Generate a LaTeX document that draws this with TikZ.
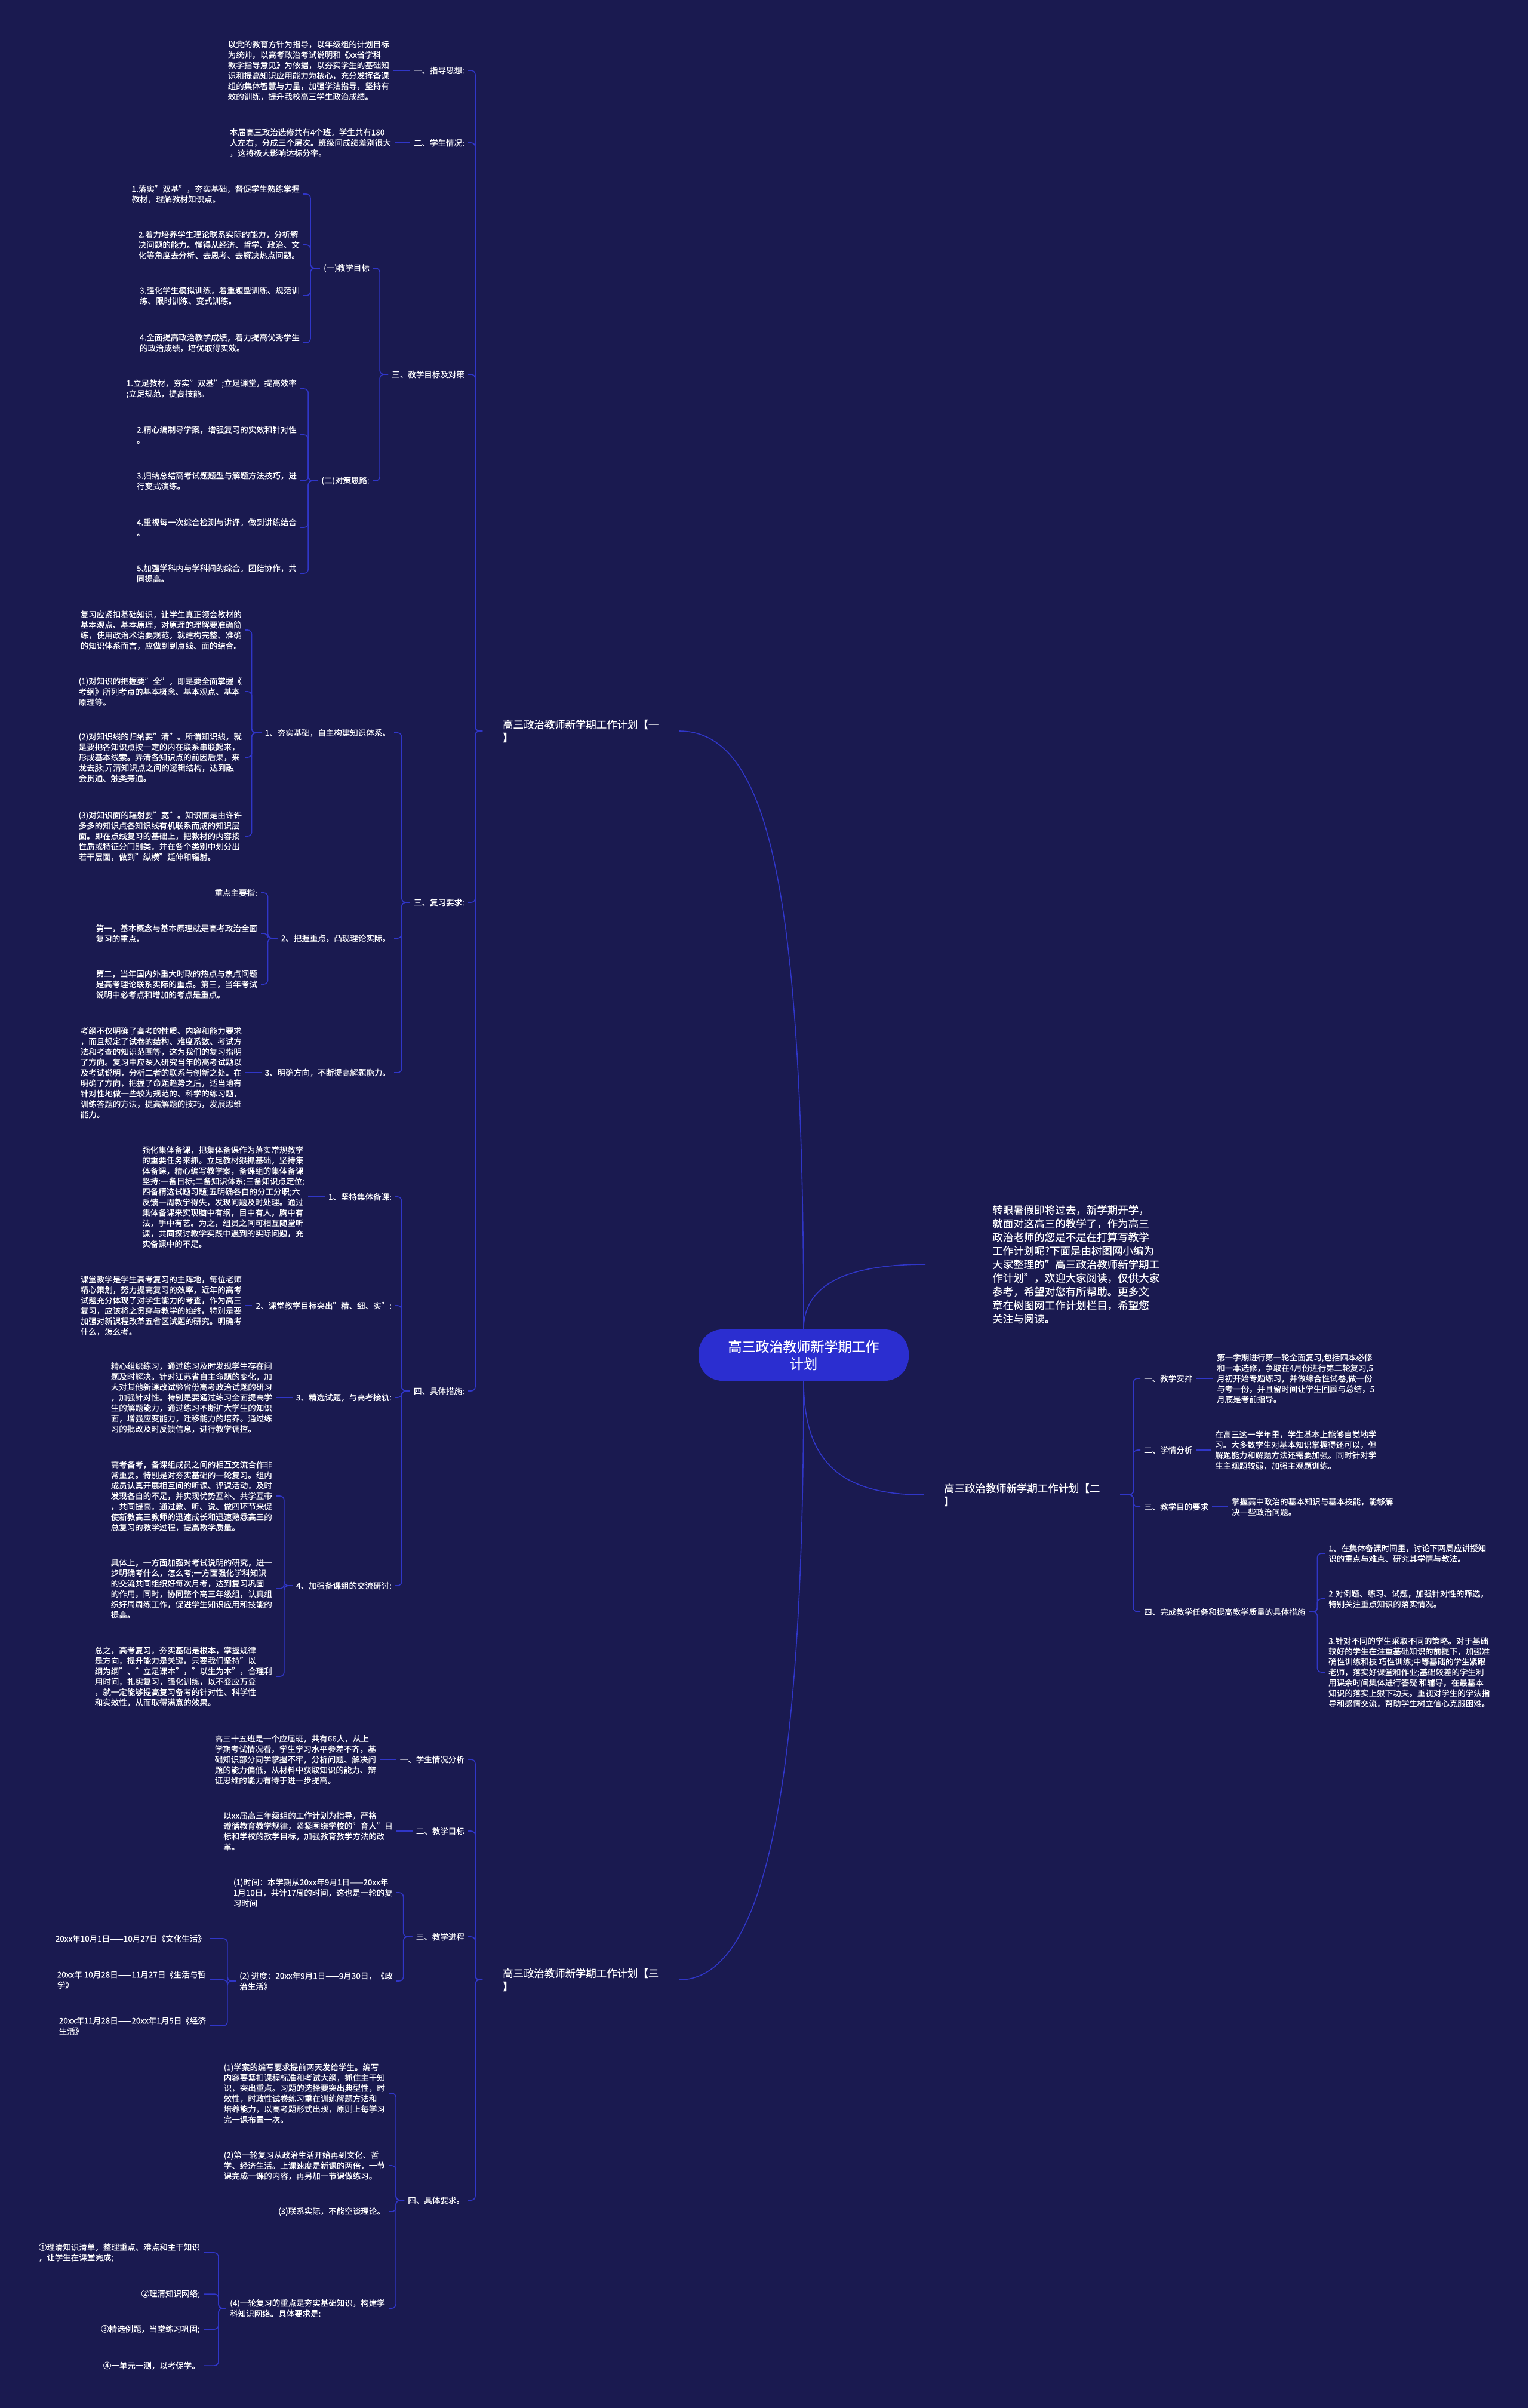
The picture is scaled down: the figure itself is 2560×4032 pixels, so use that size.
\documentclass[tikz,border=0pt]{standalone}
\usepackage{fontspec}
\setmainfont[FakeBold=0.25]{Noto Sans CJK SC}
\definecolor{bgc}{HTML}{1A1A50}
\definecolor{linkc}{HTML}{3036C8}
\definecolor{ctrc}{HTML}{2B2ED0}
\newcommand\fsm{\fontsize{13.5}{17.5}\selectfont}
\newcommand\fbr{\fontsize{17.4}{22}\selectfont}
\newcommand\fin{\fontsize{17.5}{22.8}\selectfont}
\newcommand\fct{\fontsize{23}{29}\selectfont}
\tikzset{
  txt/.style={text=white, font=\fsm, align=left, inner xsep=6pt, inner ysep=2pt},
  br/.style={text=white, font=\fbr, align=left, inner xsep=34pt, inner ysep=2pt},
  link/.style={draw=linkc, line width=1.6pt, rounded corners=7pt},
  curve/.style={draw=linkc, line width=1.6pt},
}
\begin{document}
\begin{tikzpicture}[x=1pt,y=-1pt]
\useasboundingbox (0,0) rectangle (2560,4032);
\fill[bgc] (0,0) rectangle (2560,4032);

% ---------- centre ----------
\node[fill=ctrc, rounded corners=40pt, minimum width=352pt, minimum height=86pt, text=white, font=\fct, align=center] (ctr) at (1346,2269) {高三政治教师新学期工作\\计划};

\node[text=white, font=\fin, align=left, anchor=west, inner xsep=112pt, inner ysep=2pt] (I1) at (1550,2117) {转眼暑假即将过去，新学期开学，\\就面对这高三的教学了，作为高三\\政治老师的您是不是在打算写教学\\工作计划呢?下面是由树图网小编为\\大家整理的"高三政治教师新学期工\\作计划"，欢迎大家阅读，仅供大家\\参考，希望对您有所帮助。更多文\\章在树图网工作计划栏目，希望您\\关注与阅读。};

\node[br, anchor=west] (B1) at (808,1224) {高三政治教师新学期工作计划【一\\】};
\node[br, anchor=west] (B2) at (1547,2503) {高三政治教师新学期工作计划【二\\】};
\node[br, anchor=west] (B3) at (808,3315) {高三政治教师新学期工作计划【三\\】};

\draw[curve] (ctr.north) .. controls (1346,1500) and (1290,1224) .. (B1.east);
\draw[curve] (ctr.north) .. controls (1346,2150) and (1420,2117) .. (I1.west);
\draw[curve] (ctr.south) .. controls (1346,2440) and (1400,2503) .. (B2.west);
\draw[curve] (ctr.south) .. controls (1346,2950) and (1290,3315) .. (B3.east);

% ---------- branch one ----------
\node[txt, anchor=east] (A1) at (784,118) {一、指导思想:};
\node[txt, anchor=east] (A2) at (784,239) {二、学生情况:};
\node[txt, anchor=east] (A3) at (784,627) {三、教学目标及对策};
\node[txt, anchor=east] (A4) at (784,1511) {三、复习要求:};
\node[txt, anchor=east] (A5) at (784,2329) {四、具体措施:};
\foreach \c in {A1,A2,A3,A4,A5} \draw[link] (B1.west) -- ++(-12,0) |- (\c.east);

\node[txt, anchor=east] (T11) at (658,118) {以党的教育方针为指导，以年级组的计划目标\\为统帅，以高考政治考试说明和《xx省学科\\教学指导意见》为依据，以夯实学生的基础知\\识和提高知识应用能力为核心，充分发挥备课\\组的集体智慧与力量，加强学法指导，坚持有\\效的训练，提升我校高三学生政治成绩。};
\draw[link] (A1.west) -- (T11.east);
\node[txt, anchor=east] (T21) at (661,239) {本届高三政治选修共有4个班，学生共有180\\人左右，分成三个层次。班级间成绩差别很大\\，这将极大影响达标分率。};
\draw[link] (A2.west) -- (T21.east);

\node[txt, anchor=east] (C1) at (625,449) {(一)教学目标};
\node[txt, anchor=east] (C2) at (625,805) {(二)对策思路:};
\foreach \c in {C1,C2} \draw[link] (A3.west) -- ++(-14,0) |- (\c.east);

\node[txt, anchor=east] (D1) at (508,325) {1.落实"双基"，夯实基础，督促学生熟练掌握\\教材，理解教材知识点。};
\node[txt, anchor=east] (D2) at (508,410) {2.着力培养学生理论联系实际的能力，分析解\\决问题的能力。懂得从经济、哲学、政治、文\\化等角度去分析、去思考、去解决热点问题。};
\node[txt, anchor=east] (D3) at (508,495) {3.强化学生模拟训练，着重题型训练、规范训\\练、限时训练、变式训练。};
\node[txt, anchor=east] (D4) at (508,574) {4.全面提高政治教学成绩，着力提高优秀学生\\的政治成绩，培优取得实效。};
\foreach \c in {D1,D2,D3,D4} \draw[link] (C1.west) -- ++(-16,0) |- (\c.east);

\node[txt, anchor=east] (E1) at (503,651) {1.立足教材，夯实"双基";立足课堂，提高效率\\;立足规范，提高技能。};
\node[txt, anchor=east] (E2) at (503,728) {2.精心编制导学案，增强复习的实效和针对性\\。};
\node[txt, anchor=east] (E3) at (503,805) {3.归纳总结高考试题题型与解题方法技巧，进\\行变式演练。};
\node[txt, anchor=east] (E4) at (503,883) {4.重视每一次综合检测与讲评，做到讲练结合\\。};
\node[txt, anchor=east] (E5) at (503,960) {5.加强学科内与学科间的综合，团结协作，共\\同提高。};
\foreach \c in {E1,E2,E3,E4,E5} \draw[link] (C2.west) -- ++(-16,0) |- (\c.east);

\node[txt, anchor=east] (F1) at (660,1227) {1、夯实基础，自主构建知识体系。};
\node[txt, anchor=east] (F2) at (660,1571) {2、把握重点，凸现理论实际。};
\node[txt, anchor=east] (F3) at (660,1796) {3、明确方向，不断提高解题能力。};
\foreach \c in {F1,F2,F3} \draw[link] (A4.west) -- ++(-14,0) |- (\c.east);

\node[txt, anchor=east] (G1) at (411,1055) {复习应紧扣基础知识，让学生真正领会教材的\\基本观点、基本原理，对原理的理解要准确简\\练，使用政治术语要规范，就建构完整、准确\\的知识体系而言，应做到到点线、面的结合。};
\node[txt, anchor=east] (G2) at (411,1158) {(1)对知识的把握要"全"，即是要全面掌握《\\考纲》所列考点的基本概念、基本观点、基本\\原理等。};
\node[txt, anchor=east] (G3) at (411,1268) {(2)对知识线的归纳要"清"。所谓知识线，就\\是要把各知识点按一定的内在联系串联起来，\\形成基本线索。弄清各知识点的前因后果，来\\龙去脉;弄清知识点之间的逻辑结构，达到融\\会贯通、触类旁通。};
\node[txt, anchor=east] (G4) at (411,1400) {(3)对知识面的辐射要"宽"。知识面是由许许\\多多的知识点各知识线有机联系而成的知识层\\面。即在点线复习的基础上，把教材的内容按\\性质或特征分门别类，并在各个类别中划分出\\若干层面，做到"纵横"延伸和辐射。};
\foreach \c in {G1,G2,G3,G4} \draw[link] (F1.west) -- ++(-16,0) |- (\c.east);

\node[txt, anchor=east] (H1) at (437,1495) {重点主要指:};
\node[txt, anchor=east] (H2) at (437,1563) {第一，基本概念与基本原理就是高考政治全面\\复习的重点。};
\node[txt, anchor=east] (H3) at (437,1648) {第二，当年国内外重大时政的热点与焦点问题\\是高考理论联系实际的重点。第三，当年考试\\说明中必考点和增加的考点是重点。};
\foreach \c in {H1,H2,H3} \draw[link] (F2.west) -- ++(-16,0) |- (\c.east);

\node[txt, anchor=east] (K1) at (411,1796) {考纲不仅明确了高考的性质、内容和能力要求\\，而且规定了试卷的结构、难度系数、考试方\\法和考查的知识范围等，这为我们的复习指明\\了方向。复习中应深入研究当年的高考试题以\\及考试说明，分析二者的联系与创新之处。在\\明确了方向，把握了命题趋势之后，适当地有\\针对性地做一些较为规范的、科学的练习题，\\训练答题的方法，提高解题的技巧，发展思维\\能力。};
\draw[link] (F3.west) -- (K1.east);

\node[txt, anchor=east] (M1) at (662,2004) {1、坚持集体备课:};
\node[txt, anchor=east] (M2) at (662,2186) {2、课堂教学目标突出"精、细、实":};
\node[txt, anchor=east] (M3) at (662,2340) {3、精选试题，与高考接轨:};
\node[txt, anchor=east] (M4) at (662,2655) {4、加强备课组的交流研讨:};
\foreach \c in {M1,M2,M3,M4} \draw[link] (A5.west) -- ++(-14,0) |- (\c.east);

\node[txt, anchor=east] (N1) at (516,2004) {强化集体备课，把集体备课作为落实常规教学\\的重要任务来抓。立足教材狠抓基础，坚持集\\体备课，精心编写教学案，备课组的集体备课\\坚持:一备目标;二备知识体系;三备知识点定位;\\四备精选试题习题;五明确各自的分工分职;六\\反馈一周教学得失，发现问题及时处理。通过\\集体备课来实现脑中有纲，目中有人，胸中有\\法，手中有艺。为之，组员之间可相互随堂听\\课，共同探讨教学实践中遇到的实际问题，充\\实备课中的不足。};
\draw[link] (M1.west) -- (N1.east);
\node[txt, anchor=east] (N2) at (411,2186) {课堂教学是学生高考复习的主阵地，每位老师\\精心策划，努力提高复习的效率，近年的高考\\试题充分体现了对学生能力的考查，作为高三\\复习，应该将之贯穿与教学的始终。特别是要\\加强对新课程改革五省区试题的研究。明确考\\什么，怎么考。};
\draw[link] (M2.west) -- (N2.east);
\node[txt, anchor=east] (N3) at (462,2340) {精心组织练习，通过练习及时发现学生存在问\\题及时解决。针对江苏省自主命题的变化，加\\大对其他新课改试验省份高考政治试题的研习\\，加强针对性。特别是要通过练习全面提高学\\生的解题能力，通过练习不断扩大学生的知识\\面，增强应变能力，迁移能力的培养。通过练\\习的批改及时反馈信息，进行教学调控。};
\draw[link] (M3.west) -- (N3.east);

\node[txt, anchor=east] (P1) at (462,2505) {高考备考，备课组成员之间的相互交流合作非\\常重要。特别是对夯实基础的一轮复习。组内\\成员认真开展相互间的听课、评课活动，及时\\发现各自的不足，并实现优势互补、共学互带\\，共同提高，通过教、听、说、做四环节来促\\使新教高三教师的迅速成长和迅速熟悉高三的\\总复习的教学过程，提高教学质量。};
\node[txt, anchor=east] (P2) at (462,2660) {具体上，一方面加强对考试说明的研究，进一\\步明确考什么，怎么考;一方面强化学科知识\\的交流共同组织好每次月考，达到复习巩固\\的作用，同时，协同整个高三年级组，认真组\\织好周周练工作，促进学生知识应用和技能的\\提高。};
\node[txt, anchor=east] (P3) at (462,2807) {总之，高考复习，夯实基础是根本，掌握规律\\是方向，提升能力是关键。只要我们坚持"以\\纲为纲"、"立足课本"，"以生为本"，合理利\\用时间，扎实复习，强化训练，以不变应万变\\，就一定能够提高复习备考的针对性、科学性\\和实效性，从而取得满意的效果。};
\foreach \c in {P1,P2,P3} \draw[link] (M4.west) -- ++(-14,0) |- (\c.east);

% ---------- branch three ----------
\node[txt, anchor=east] (Q1) at (784,2946) {一、学生情况分析};
\node[txt, anchor=east] (Q2) at (784,3066) {二、教学目标};
\node[txt, anchor=east] (Q3) at (784,3243) {三、教学进程};
\node[txt, anchor=east] (Q4) at (784,3684) {四、具体要求。};
\foreach \c in {Q1,Q2,Q3,Q4} \draw[link] (B3.west) -- ++(-12,0) |- (\c.east);

\node[txt, anchor=east] (R1) at (636,2946) {高三十五班是一个应届班，共有66人，从上\\学期考试情况看，学生学习水平参差不齐，基\\础知识部分同学掌握不牢，分析问题、解决问\\题的能力偏低，从材料中获取知识的能力、辩\\证思维的能力有待于进一步提高。};
\draw[link] (Q1.west) -- (R1.east);
\node[txt, anchor=east] (R2) at (664,3066) {以xx届高三年级组的工作计划为指导，严格\\遵循教育教学规律，紧紧围绕学校的"育人"目\\标和学校的教学目标，加强教育教学方法的改\\革。};
\draw[link] (Q2.west) -- (R2.east);

\node[txt, anchor=east] (S1) at (664,3169) {(1)时间：本学期从20xx年9月1日——20xx年\\1月10日，共计17周的时间，这也是一轮的复\\习时间};
\node[txt, anchor=east] (S2) at (664,3317) {(2) 进度：20xx年9月1日——9月30日，《政\\治生活》};
\foreach \c in {S1,S2} \draw[link] (Q3.west) -- ++(-15,0) |- (\c.east);

\node[txt, anchor=east] (U1) at (351,3246) {20xx年10月1日——10月27日《文化生活》};
\node[txt, anchor=east] (U2) at (351,3315) {20xx年 10月28日——11月27日《生活与哲\\学》};
\node[txt, anchor=east] (U3) at (351,3392) {20xx年11月28日——20xx年1月5日《经济\\生活》};
\foreach \c in {U1,U2,U3} \draw[link] (S2.west) -- ++(-14,0) |- (\c.east);

\node[txt, anchor=east] (V1) at (651,3505) {(1)学案的编写要求提前两天发给学生。编写\\内容要紧扣课程标准和考试大纲，抓住主干知\\识，突出重点。习题的选择要突出典型性，时\\效性，时政性试卷练习重在训练解题方法和\\培养能力，以高考题形式出现，原则上每学习\\完一课布置一次。};
\node[txt, anchor=east] (V2) at (651,3626) {(2)第一轮复习从政治生活开始再到文化、哲\\学、经济生活。上课速度是新课的两倍，一节\\课完成一课的内容，再另加一节课做练习。};
\node[txt, anchor=east] (V3) at (651,3703) {(3)联系实际，不能空谈理论。};
\node[txt, anchor=east] (V4) at (651,3865) {(4)一轮复习的重点是夯实基础知识，构建学\\科知识网络。具体要求是:};
\foreach \c in {V1,V2,V3,V4} \draw[link] (Q4.west) -- ++(-14,0) |- (\c.east);

\node[txt, anchor=east] (W1) at (341,3772) {①理清知识清单，整理重点、难点和主干知识\\，让学生在课堂完成;};
\node[txt, anchor=east] (W2) at (341,3841) {②理清知识网络;};
\node[txt, anchor=east] (W3) at (341,3900) {③精选例题，当堂练习巩固;};
\node[txt, anchor=east] (W4) at (341,3961) {④一单元一测，以考促学。};
\foreach \c in {W1,W2,W3,W4} \draw[link] (V4.west) -- ++(-13,0) |- (\c.east);

% ---------- branch two ----------
\node[txt, anchor=west] (X1) at (1910,2308) {一、教学安排};
\node[txt, anchor=west] (X2) at (1910,2428) {二、学情分析};
\node[txt, anchor=west] (X3) at (1910,2523) {三、教学目的要求};
\node[txt, anchor=west] (X4) at (1910,2699) {四、完成教学任务和提高教学质量的具体措施};
\foreach \c in {X1,X2,X3,X4} \draw[link] (B2.east) -- ++(22,0) |- (\c.west);

\node[txt, anchor=west] (Y1) at (2032,2308) {第一学期进行第一轮全面复习,包括四本必修\\和一本选修，争取在4月份进行第二轮复习,5\\月初开始专题练习，并做综合性试卷,做一份\\与考一份，并且留时间让学生回顾与总结，5\\月底是考前指导。};
\draw[link] (X1.east) -- (Y1.west);
\node[txt, anchor=west] (Y2) at (2029,2428) {在高三这一学年里，学生基本上能够自觉地学\\习。大多数学生对基本知识掌握得还可以，但\\解题能力和解题方法还需要加强。同时针对学\\生主观题较弱，加强主观题训练。};
\draw[link] (X2.east) -- (Y2.west);
\node[txt, anchor=west] (Y3) at (2057,2523) {掌握高中政治的基本知识与基本技能，能够解\\决一些政治问题。};
\draw[link] (X3.east) -- (Y3.west);

\node[txt, anchor=west] (Z1) at (2219,2601) {1、在集体备课时间里，讨论下两周应讲授知\\识的重点与难点、研究其学情与教法。};
\node[txt, anchor=west] (Z2) at (2219,2677) {2.对例题、练习、试题，加强针对性的筛选，\\特别关注重点知识的落实情况。};
\node[txt, anchor=west] (Z3) at (2219,2800) {3.针对不同的学生采取不同的策略。对于基础\\较好的学生在注重基础知识的前提下，加强准\\确性训练和技 巧性训练;中等基础的学生紧跟\\老师，落实好课堂和作业;基础较差的学生利\\用课余时间集体进行答疑 和辅导，在最基本\\知识的落实上狠下功夫。重视对学生的学法指\\导和感情交流，帮助学生树立信心克服困难。};
\foreach \c in {Z1,Z2,Z3} \draw[link] (X4.east) -- ++(14,0) |- (\c.west);
\end{tikzpicture}
\end{document}
